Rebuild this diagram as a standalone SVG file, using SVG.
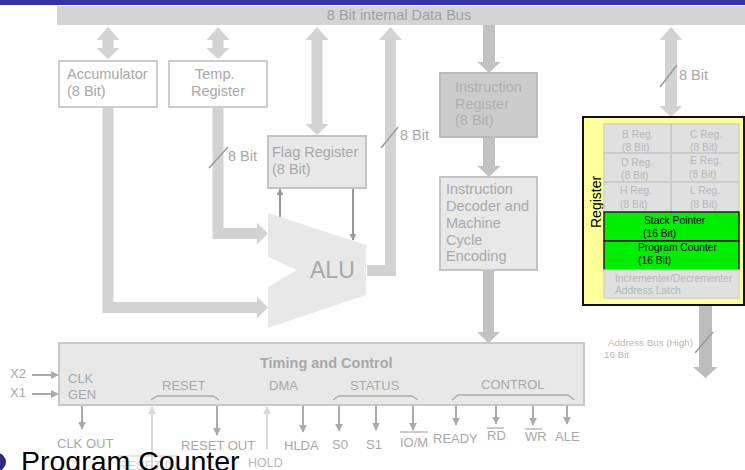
<svg xmlns="http://www.w3.org/2000/svg" width="745" height="470" viewBox="0 0 745 470">
<defs>
<style>
text{font-family:"Liberation Sans",Arial,sans-serif;fill:#a8a8a8}
.t14{font-size:14.5px}
.t13{font-size:13px}
.sm{font-size:10.3px;fill:#b8b8b8}
.blk{fill:#000}
.bus{fill:#d3d3d3}
.dk{fill:#c2c2c2}
.thin{stroke:#aaaaaa;stroke-width:2;fill:none}
.lt{stroke:#d8d8d8;stroke-width:2;fill:none}
.sl{stroke:#9a9a9a;stroke-width:1.5}
.ov{stroke:#aaaaaa;stroke-width:1.2}
</style>
<marker id="ah" viewBox="0 0 10 10" refX="9" refY="5" markerWidth="4" markerHeight="4.5" orient="auto" markerUnits="strokeWidth"><path d="M0,0L10,5L0,10z" fill="#aaaaaa"/></marker>
<marker id="ahl" viewBox="0 0 10 10" refX="9" refY="5" markerWidth="4" markerHeight="4.5" orient="auto" markerUnits="strokeWidth"><path d="M0,0L10,5L0,10z" fill="#d8d8d8"/></marker>
<marker id="ahd" viewBox="0 0 10 10" refX="9" refY="5" markerWidth="3.5" markerHeight="4" orient="auto" markerUnits="strokeWidth"><path d="M0,0L10,5L0,10z" fill="#999999"/></marker>
</defs>
<rect x="0" y="0" width="745" height="5" fill="#3434a8"/>

<g id="databus">
<rect x="57" y="6" width="688" height="19" fill="#d4d4d4"/>
<text x="399" y="20" text-anchor="middle" style="font-size:14.5px;fill:#a0a0a0">8 Bit internal Data Bus</text>
</g>

<g id="connectors">
<polygon class="bus" points="108,27 119.5,40 113.5,40 113.5,48 119.5,48 108,59 96.5,48 102.5,48 102.5,40 96.5,40"/>
<polygon class="bus" points="218,27 229.5,40 223.5,40 223.5,48 229.5,48 218,59 206.5,48 212.5,48 212.5,40 206.5,40"/>
<polygon class="bus" points="317,27 328.5,40 322.5,40 322.5,124 328.5,124 317,135 305.5,124 311.5,124 311.5,40 305.5,40"/>
<polygon class="bus" points="390.5,27 402,40 396,40 396,276 367,276 367,265 385,265 385,40 379,40"/>
<polygon class="bus" points="671,27 682.5,40 677,40 677,106 682.5,106 671,117 659.5,106 665,106 665,40 659.5,40"/>
<polygon class="dk" points="483,25 495,25 495,62 500.5,62 489,73 477.5,62 483,62"/>
<polygon class="dk" points="483,137 495,137 495,166 500.5,166 489,177 477.5,166 483,166"/>
<polygon class="dk" points="483,270 494,270 494,332 500,332 488.5,343 477,332 483,332"/>
<polygon class="bus" points="102.5,107 113.5,107 113.5,302 257,302 257,296.5 268,307.5 257,318.5 257,313 102.5,313"/>
<polygon class="bus" points="212.5,107 223.5,107 223.5,228 257,228 257,222.5 268,233.5 257,244.5 257,239 212.5,239"/>
<polygon fill="#bdbdbd" points="699,305 712,305 712,367 717.5,367 705.5,378 693,367 699,367"/>
<line x1="280" y1="217" x2="280" y2="189" stroke="#999" stroke-width="2" marker-end="url(#ahd)"/>
<line x1="353" y1="188" x2="353" y2="240" stroke="#999" stroke-width="2" marker-end="url(#ahd)"/>
<line class="sl" x1="209" y1="168" x2="228" y2="147"/>
<text class="t14" x="228" y="161">8 Bit</text>
<line class="sl" x1="381" y1="148" x2="398" y2="127"/>
<text class="t14" x="400" y="140">8 Bit</text>
<line class="sl" x1="660" y1="87" x2="677" y2="65"/>
<text class="t14" x="679" y="80">8 Bit</text>
<line class="sl" x1="695" y1="353" x2="713" y2="332"/>
<text x="608" y="346" style="font-size:9.8px;fill:#b8b8b8">Address Bus (High)</text>
<text x="604" y="358" style="font-size:9.8px;fill:#b8b8b8">16 Bit</text>
<line class="thin" x1="32" y1="375" x2="58" y2="375" marker-end="url(#ah)"/>
<line class="thin" x1="32" y1="394" x2="58" y2="394" marker-end="url(#ah)"/>
<line class="thin" x1="82" y1="406" x2="82" y2="429" marker-end="url(#ah)"/>
<line class="lt" x1="152" y1="470" x2="152" y2="407" marker-end="url(#ahl)"/>
<line class="thin" x1="217" y1="406" x2="217" y2="435" marker-end="url(#ah)"/>
<line class="lt" x1="267" y1="449" x2="267" y2="407" marker-end="url(#ahl)"/>
<line class="thin" x1="303" y1="406" x2="303" y2="432" marker-end="url(#ah)"/>
<line class="thin" x1="339" y1="406" x2="339" y2="431" marker-end="url(#ah)"/>
<line class="thin" x1="376" y1="406" x2="376" y2="430" marker-end="url(#ah)"/>
<line class="thin" x1="413" y1="406" x2="413" y2="430" marker-end="url(#ah)"/>
<line class="thin" x1="456" y1="406" x2="456" y2="425" marker-end="url(#ah)"/>
<line class="thin" x1="496" y1="406" x2="496" y2="424" marker-end="url(#ah)"/>
<line class="thin" x1="533" y1="406" x2="533" y2="425" marker-end="url(#ah)"/>
<line class="thin" x1="567" y1="406" x2="567" y2="424" marker-end="url(#ah)"/>
</g>

<g id="accumulator">
<rect x="59" y="61" width="98" height="46" fill="#fff" stroke="#cccccc" stroke-width="2"/>
<text class="t14" x="67" y="79">Accumulator</text>
<text class="t14" x="67" y="96">(8 Bit)</text>
</g>
<g id="temp">
<rect x="169" y="61" width="98" height="46" fill="#fff" stroke="#cccccc" stroke-width="2"/>
<text class="t14" x="195" y="79">Temp.</text>
<text class="t14" x="191" y="96">Register</text>
</g>
<g id="flag">
<rect x="268" y="136" width="98" height="52" fill="#e8e8e8" stroke="#c4c4c4" stroke-width="2"/>
<text class="t14" x="272" y="157">Flag Register</text>
<text class="t14" x="272" y="174">(8 Bit)</text>
</g>
<g id="alu">
<polygon points="268,213 366,245 366,295 268,328 268,287 297,270 268,257" fill="#e8e8e8"/>
<text x="310" y="278" style="font-size:23px;fill:#a8a8a8">ALU</text>
</g>
<g id="ir">
<rect x="440" y="73" width="97" height="64" fill="#cccccc" stroke="#bbbbbb" stroke-width="2"/>
<text class="t14" x="455" y="92" style="fill:#b0b0b0">Instruction</text>
<text class="t14" x="455" y="108.5" style="fill:#b0b0b0">Register</text>
<text class="t14" x="455" y="125" style="fill:#b0b0b0">(8 Bit)</text>
</g>
<g id="decoder">
<rect x="440" y="177" width="97" height="93" fill="#e8e8e8" stroke="#c4c4c4" stroke-width="2"/>
<text class="t14" x="446" y="193.5">Instruction</text>
<text class="t14" x="446" y="210.5">Decoder and</text>
<text class="t14" x="446" y="227.5">Machine</text>
<text class="t14" x="446" y="244.5">Cycle</text>
<text class="t14" x="446" y="261">Encoding</text>
</g>
<g id="register">
<rect x="583" y="117" width="161" height="188" fill="#ffff99" stroke="#111" stroke-width="2"/>
<text transform="translate(601,228) rotate(-90)" class="blk" style="font-size:14px">Register</text>
<rect x="604" y="124" width="135" height="88" fill="#e0e0e0" stroke="#d0d0d0" stroke-width="1.5"/>
<line x1="671" y1="124" x2="671" y2="212" stroke="#c4c4c4" stroke-width="1.5"/>
<line x1="604" y1="153" x2="739" y2="153" stroke="#c4c4c4" stroke-width="1.5"/>
<line x1="604" y1="182" x2="739" y2="182" stroke="#c4c4c4" stroke-width="1.5"/>
<text class="sm" x="622" y="138">B Reg.</text>
<text class="sm" x="622" y="151">(8 Bit)</text>
<text class="sm" x="690" y="138">C Reg.</text>
<text class="sm" x="690" y="151">(8 Bit)</text>
<text class="sm" x="621" y="166">D Reg.</text>
<text class="sm" x="621" y="179">(8 Bit)</text>
<text class="sm" x="690" y="164">E Reg.</text>
<text class="sm" x="689" y="177.5">(8 Bit)</text>
<text class="sm" x="620" y="194">H Reg.</text>
<text class="sm" x="620" y="207.5">(8 Bit)</text>
<text class="sm" x="690" y="194">L Reg.</text>
<text class="sm" x="690" y="207.5">(8 Bit)</text>
<rect x="604" y="212" width="135" height="29" fill="#00ee00" stroke="#222" stroke-width="1.5"/>
<rect x="604" y="241" width="135" height="29" fill="#00ee00" stroke="#222" stroke-width="1.5"/>
<text class="blk" x="644" y="224" style="font-size:10.3px">Stack Pointer</text>
<text class="blk" x="643" y="237" style="font-size:10.3px">(16 Bit)</text>
<text class="blk" x="638" y="251" style="font-size:10.3px">Program Counter</text>
<text class="blk" x="638" y="264" style="font-size:10.3px">(16 Bit)</text>
<rect x="604" y="270" width="135" height="28" fill="#e0e0e0" stroke="#d4d4d4" stroke-width="1.5"/>
<text class="sm" x="615" y="281.5">Incrementer/Decrementer</text>
<text class="sm" x="615" y="294">Address Latch</text>
</g>
<g id="timing">
<rect x="59" y="343" width="525" height="62" fill="#e8e8e8" stroke="#c8c8c8" stroke-width="2"/>
<text x="260" y="368" style="font-size:14.5px;font-weight:bold;fill:#a8a8a8">Timing and Control</text>
<text class="t13" x="68" y="383">CLK</text>
<text class="t13" x="68" y="399">GEN</text>
<text class="t13" x="162" y="390">RESET</text>
<text class="t13" x="269" y="390">DMA</text>
<text class="t13" x="350" y="390">STATUS</text>
<text class="t13" x="481" y="389">CONTROL</text>
<polyline points="151,400 157,396 213,396 219,400" fill="none" stroke="#aaaaaa" stroke-width="1.3"/>
<polyline points="333,400 339,396 412,396 418,400" fill="none" stroke="#aaaaaa" stroke-width="1.3"/>
<polyline points="452,400 458,395 568,395 574,400" fill="none" stroke="#aaaaaa" stroke-width="1.3"/>
</g>
<g id="pins">
<text class="t13" x="10" y="378">X2</text>
<text class="t13" x="10" y="397">X1</text>
<text class="t13" x="57" y="448">CLK OUT</text>
<text class="t13" x="118" y="470" style="fill:#d4d4d4">RESET IN</text>
<line x1="118" y1="456" x2="178" y2="456" stroke="#cccccc" stroke-width="1.2"/>
<text class="t13" x="181" y="450">RESET OUT</text>
<text x="248" y="467" style="font-size:12.5px;fill:#b8b8b8">HOLD</text>
<text class="t13" x="284" y="450">HLDA</text>
<text class="t13" x="332" y="449">S0</text>
<text class="t13" x="366" y="449">S1</text>
<text class="t13" x="400" y="447">IO/M</text>
<line class="ov" x1="400" y1="432" x2="428" y2="432"/>
<text class="t13" x="433" y="443">READY</text>
<text class="t13" x="487" y="440">RD</text>
<line class="ov" x1="487" y1="428" x2="504" y2="428"/>
<text class="t13" x="525" y="441">WR</text>
<line class="ov" x1="525" y1="429" x2="542" y2="429"/>
<text class="t13" x="555" y="441">ALE</text>
</g>
<g id="overlay">
<circle cx="-3" cy="462" r="9" fill="#2b2b80"/>
<text x="21" y="471" style="font-size:28.5px;fill:#000">Program Counter</text>
</g>
</svg>
